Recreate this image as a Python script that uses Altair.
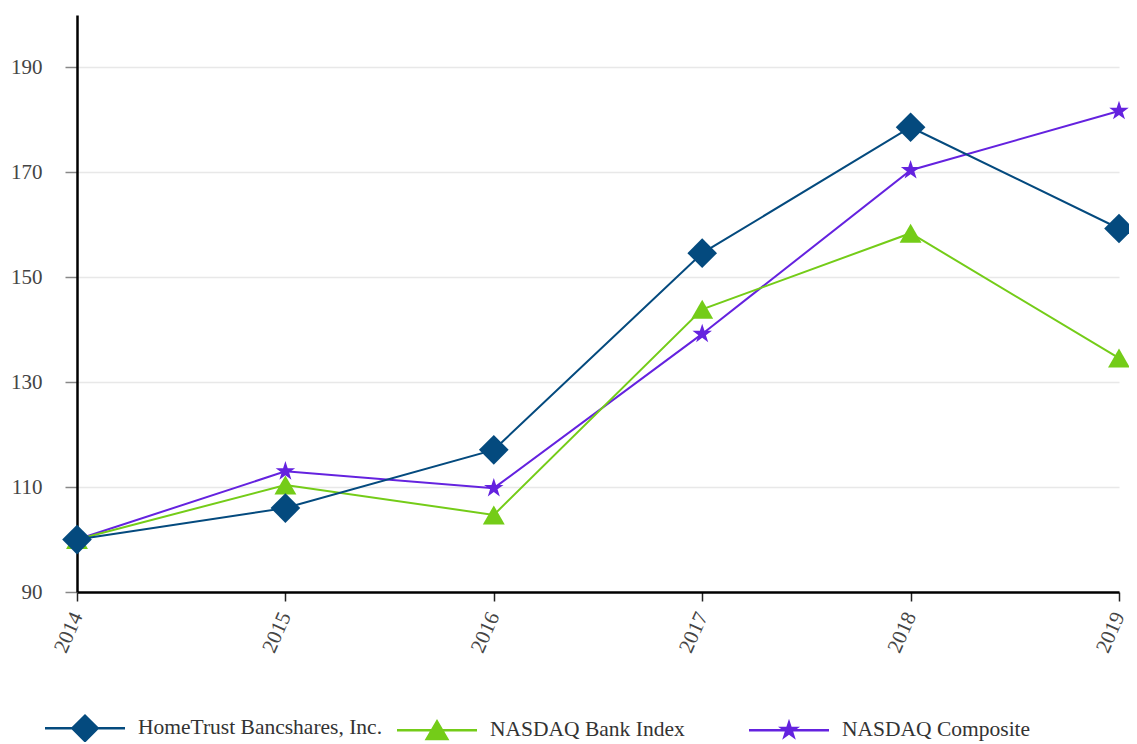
import altair as alt
import pandas as pd

years = ["2014", "2015", "2016", "2017", "2018", "2019"]
series_names = ["HomeTrust Bancshares, Inc.", "NASDAQ Bank Index", "NASDAQ Composite"]
hometrust = [100, 106.0, 117.1, 154.6, 178.6, 159.3]
bank_index = [100, 110.4, 104.7, 143.9, 158.4, 134.6]
composite = [100, 113.0, 109.8, 139.2, 170.4, 181.7]
colors = ["#044a7e", "#74cc18", "#6422df"]
y_ticks = [90, 110, 130, 150, 170, 190]

rows = []
for name, vals in zip(series_names, [hometrust, bank_index, composite]):
    for yr, v in zip(years, vals):
        rows.append({"year": yr, "series": name, "value": v})
df = pd.DataFrame(rows)

STAR = ("M0,-1L0.2245,-0.309L0.951,-0.309L0.363,0.118L0.588,0.809L0,0.382"
        "L-0.588,0.809L-0.363,0.118L-0.951,-0.309L-0.2245,-0.309Z")
LINE = "M-1,-0.03H1V0.03H-1Z"
legend_paths = [
    LINE + "M0,-0.36L0.36,0L0,0.36L-0.36,0Z",
    LINE + "M0,-0.28L0.31,0.25L-0.31,0.25Z",
    LINE + ("M0,-0.29L0.0651,-0.0896L0.2758,-0.0896L0.1053,0.0342L0.1705,0.2346L0,0.1108"
            "L-0.1705,0.2346L-0.1053,0.0342L-0.2758,-0.0896L-0.0651,-0.0896Z"),
]
point_shapes = ["diamond", "triangle-up", STAR]
point_sizes = [880, 480, 420]

x_enc = alt.X("year:O", title=None, scale=alt.Scale(padding=0),
              axis=alt.Axis(labelAngle=-66, labelAlign="right", labelBaseline="middle",
                            tickColor="#222", tickSize=9, tickWidth=1.5,
                            domainColor="#000", domainWidth=2.5, labelPadding=12))
y_enc = alt.Y("value:Q", title=None,
              scale=alt.Scale(domain=[90, 200], nice=False, zero=False),
              axis=alt.Axis(values=y_ticks, tickColor="#888", tickSize=12, tickWidth=1.5,
                            domainColor="#000", domainWidth=2.5, labelPadding=23,
                            gridColor="#e8e8e8", gridWidth=1.5))
color_scale = alt.Scale(domain=series_names, range=colors)

base = alt.Chart(df)
layers = []

legend_kw = dict(title=None, orient="none", legendX=-32, legendY=673, direction="horizontal",
                 columns=3, gridAlign="all", symbolSize=6400, symbolStrokeWidth=0,
                 symbolOpacity=1, labelFont="Liberation Serif", labelFontSize=21.5,
                 labelColor="#333", labelOffset=13, columnPadding=14, labelLimit=400)
legend_layer = base.mark_point(filled=True, opacity=0).encode(
    x=x_enc, y=y_enc,
    color=alt.Color("series:N", scale=color_scale, legend=alt.Legend(**legend_kw)),
    shape=alt.Shape("series:N", scale=alt.Scale(domain=series_names, range=legend_paths),
                    legend=alt.Legend(**legend_kw)),
)
layers.append(legend_layer)

for i in reversed(range(3)):
    name = series_names[i]
    sub = base.transform_filter(alt.datum.series == name)
    layers.append(sub.mark_line(strokeWidth=2).encode(
        x=x_enc, y=y_enc, color=alt.Color("series:N", scale=color_scale, legend=None)))
    layers.append(sub.mark_point(shape=point_shapes[i], filled=True, size=point_sizes[i],
                                 opacity=1, strokeWidth=0).encode(
        x=x_enc, y=y_enc, color=alt.Color("series:N", scale=color_scale, legend=None)))

chart = alt.layer(*layers).properties(
    width=1042, height=577,
    padding={"left": 69, "top": 7, "right": 10, "bottom": 150},
    autosize=alt.AutoSizeParams(type="none"),
).configure_view(stroke=None).configure_axis(
    labelFont="Liberation Serif", labelFontSize=21, labelColor="#444", grid=False
).configure_axisY(grid=True)

chart.save("out.html", embed_options={"renderer": "svg", "actions": False})
